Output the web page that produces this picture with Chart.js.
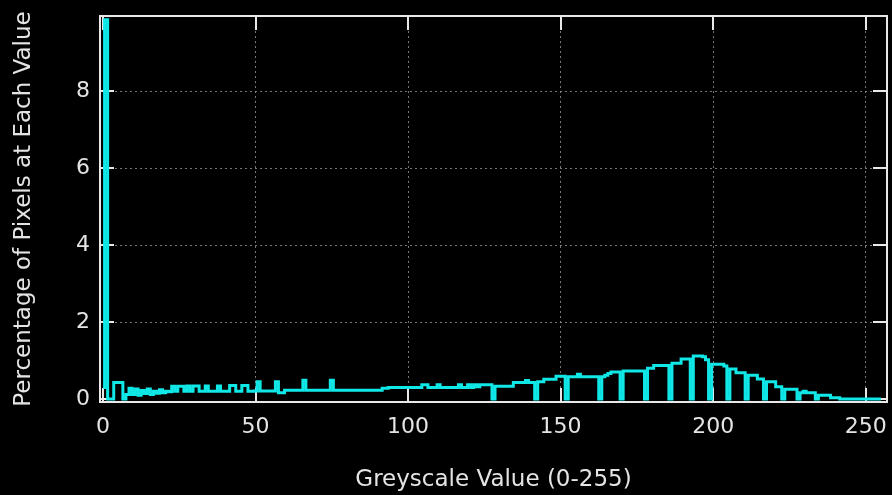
<!DOCTYPE html>
<html>
<head>
<meta charset="utf-8">
<script src="https://cdn.jsdelivr.net/npm/chart.js@4/dist/chart.umd.min.js"></script>
<style>
html,body{margin:0;padding:0;background:#000;}
#wrap{width:892px;height:495px;position:relative;}
</style>
</head>
<body>
<div id="wrap"><canvas id="c" width="892" height="495"></canvas></div>
<script>
const xTitle = 'Greyscale Value (0-255)';
const yTitle = 'Percentage of Pixels at Each Value';
const xTickValues = [0, 50, 100, 150, 200, 250];
const yTickValues = [0, 2, 4, 6, 8];

// percentage of pixels for grey levels 0..255
const pixelPercent = [
  0.3, 9.85, 0, 0, 0.43, 0.43, 0.43, 0, 0.12, 0.28, 0.12, 0.26, 0.1, 0.22, 0.14, 0.26,
  0.12, 0.2, 0.15, 0.24, 0.16, 0.2, 0.19, 0.33, 0.2, 0.33, 0.33, 0.2, 0.34, 0.2, 0.34, 0.34,
  0.2, 0.2, 0.34, 0.2, 0.2, 0.2, 0.34, 0.2, 0.2, 0.2, 0.35, 0.35, 0.2, 0.2, 0.35, 0.35,
  0.2, 0.2, 0.21, 0.45, 0.21, 0.21, 0.21, 0.21, 0.21, 0.45, 0.16, 0.16, 0.23, 0.23, 0.23, 0.23,
  0.23, 0.23, 0.49, 0.23, 0.23, 0.23, 0.23, 0.23, 0.23, 0.23, 0.23, 0.49, 0.23, 0.23, 0.23, 0.23,
  0.23, 0.23, 0.23, 0.23, 0.23, 0.23, 0.23, 0.23, 0.23, 0.23, 0.23, 0.23, 0.28, 0.28, 0.30, 0.30,
  0.30, 0.30, 0.30, 0.30, 0.30, 0.30, 0.30, 0.30, 0.30, 0.37, 0.37, 0.30, 0.30, 0.30, 0.37, 0.30,
  0.30, 0.30, 0.30, 0.30, 0.30, 0.37, 0.30, 0.30, 0.37, 0.30, 0.37, 0.32, 0.37, 0.37, 0.37, 0.37,
  0, 0.33, 0.33, 0.33, 0.33, 0.33, 0.33, 0.43, 0.43, 0.43, 0.43, 0.48, 0.43, 0.43, 0, 0.45,
  0.45, 0.51, 0.51, 0.51, 0.51, 0.59, 0.59, 0.59, 0, 0.58, 0.58, 0.58, 0.64, 0.58, 0.58, 0.58,
  0.58, 0.58, 0.58, 0, 0.58, 0.62, 0.66, 0.70, 0.70, 0.70, 0, 0.73, 0.73, 0.73, 0.73, 0.73,
  0.73, 0.73, 0, 0.80, 0.80, 0.87, 0.87, 0.87, 0.87, 0.87, 0, 0.93, 0.93, 0.93, 1.04, 1.04,
  1.04, 0, 1.12, 1.12, 1.12, 1.10, 1.02, 0, 0.90, 0.90, 0.90, 0.90, 0.86, 0, 0.78, 0.78,
  0.68, 0.68, 0.68, 0, 0.62, 0.62, 0.62, 0.52, 0.52, 0, 0.45, 0.45, 0.45, 0.32, 0.32, 0,
  0.25, 0.25, 0.25, 0.25, 0, 0.16, 0.2, 0.16, 0.16, 0.16, 0, 0.1, 0.1, 0.1, 0.1, 0.03,
  0.03, 0.03, 0, 0, 0, 0, 0, 0, 0, 0, 0, 0, 0, 0, 0, 0
];

const textColor = '#e4e4e4';
const fontFamily = '"DejaVu Sans", "Liberation Sans", sans-serif';

const bgPlugin = {
  id: 'bg',
  beforeDraw(chart) {
    const ctx = chart.ctx;
    ctx.save();
    ctx.fillStyle = '#000';
    ctx.fillRect(0, 0, chart.width, chart.height);
    ctx.restore();
  }
};

const framePlugin = {
  id: 'frame',
  beforeDatasetsDraw(chart) {
    const {ctx, chartArea: a, scales: {x, y}} = chart;
    const L = 14;
    ctx.save();
    ctx.strokeStyle = '#e8e8e8';
    ctx.lineWidth = 2;
    ctx.beginPath();
    xTickValues.forEach(v => {
      const px = Math.round(x.getPixelForValue(v));
      ctx.moveTo(px, a.bottom); ctx.lineTo(px, a.bottom - L);
      ctx.moveTo(px, a.top); ctx.lineTo(px, a.top + L);
    });
    yTickValues.forEach(v => {
      const py = Math.round(y.getPixelForValue(v));
      ctx.moveTo(a.left, py); ctx.lineTo(a.left + L, py);
      ctx.moveTo(a.right, py); ctx.lineTo(a.right - L, py);
    });
    ctx.stroke();
    ctx.strokeRect(a.left, a.top, a.right - a.left, a.bottom - a.top);
    ctx.restore();
  }
};

const gridColor = ctx => (ctx.tick && ctx.tick.value === 0) ? 'rgba(0,0,0,0)' : 'rgba(140,140,140,0.85)';

new Chart(document.getElementById('c'), {
  type: 'line',
  data: {
    datasets: [{
      data: pixelPercent.map((v, i) => ({x: i, y: v})),
      borderColor: '#10e8e8',
      borderWidth: 3,
      pointRadius: 0,
      stepped: 'middle',
      fill: false,
      tension: 0
    }]
  },
  options: {
    responsive: false,
    animation: false,
    devicePixelRatio: 1,
    layout: {padding: {left: 0, right: 5, top: 16, bottom: 0}},
    plugins: {legend: {display: false}, tooltip: {enabled: false}},
    scales: {
      x: {
        type: 'linear',
        min: -1,
        max: 257,
        afterBuildTicks: s => { s.ticks = xTickValues.map(v => ({value: v})); },
        afterFit: s => { s.height = 93; s.paddingLeft = 0; s.paddingRight = 0; },
        grid: {color: gridColor, lineWidth: 1, drawTicks: false},
        border: {display: false, dash: [2, 3]},
        ticks: {color: textColor, font: {family: fontFamily, size: 22}, padding: 12, maxRotation: 0, autoSkip: false},
        title: {display: true, text: xTitle, color: textColor, font: {family: fontFamily, size: 23}, padding: {top: 0, bottom: 1}}
      },
      y: {
        type: 'linear',
        min: -0.078,
        max: 9.95,
        afterBuildTicks: s => { s.ticks = yTickValues.map(v => ({value: v})); },
        afterFit: s => { s.width = 100; s.paddingTop = 0; s.paddingBottom = 0; },
        grid: {color: gridColor, lineWidth: 1, drawTicks: false},
        border: {display: false, dash: [2, 3]},
        ticks: {color: textColor, font: {family: fontFamily, size: 22}, padding: 10, autoSkip: false},
        title: {display: true, text: yTitle, color: textColor, font: {family: fontFamily, size: 23}, padding: {top: 10, bottom: 0}}
      }
    }
  },
  plugins: [bgPlugin, framePlugin]
});
</script>
</body>
</html>
